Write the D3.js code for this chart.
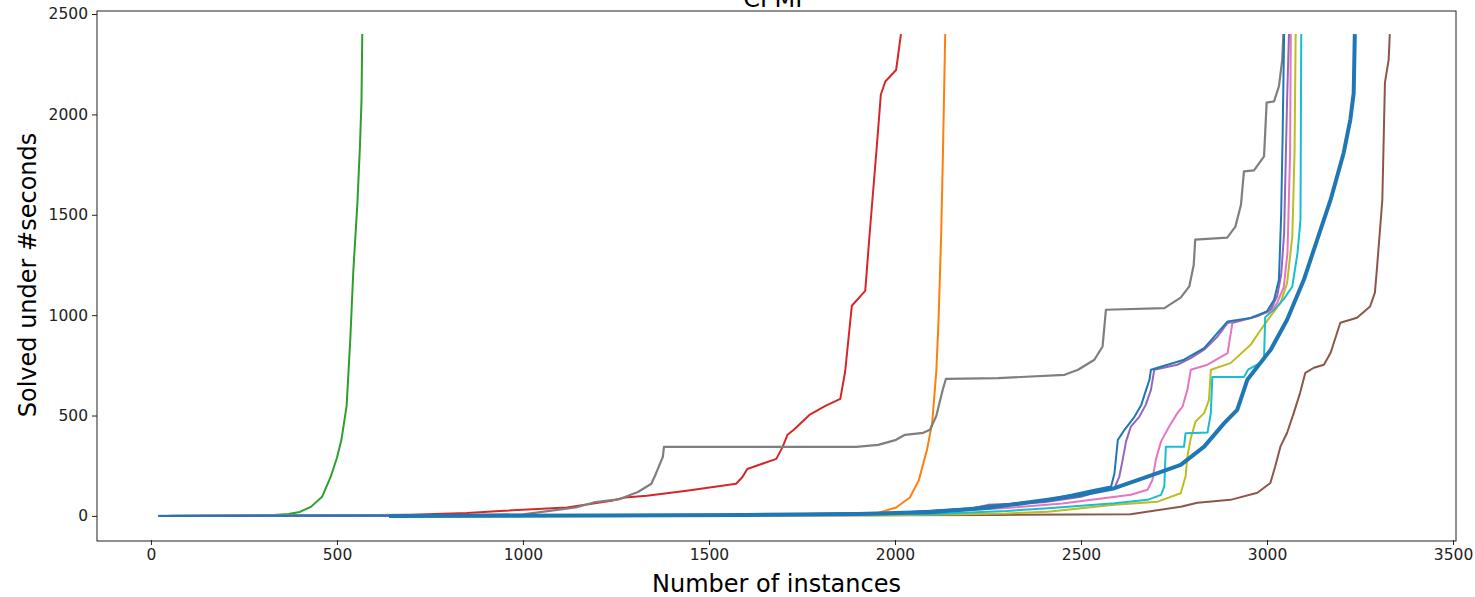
<!DOCTYPE html>
<html>
<head>
<meta charset="utf-8">
<script src="https://cdn.jsdelivr.net/npm/d3@7"></script>
<style>
  body { margin: 0; background: #fff; }
  text { font-family: "DejaVu Sans", sans-serif; }
</style>
</head>
<body>
<script>
// 数据：每条曲线的 [实例数, 秒数]
const title = "CPMP";
const xTicks = [0, 500, 1000, 1500, 2000, 2500, 3000, 3500];
const yTicks = [0, 500, 1000, 1500, 2000, 2500];

const green = [[20,0],[250,1],[330,4],[370,10],[400,20],[430,45],[460,95],[483,194],[500,290],[512,379],[526,548],[536,887],[544,1221],[555,1560],[562,1850],[566,2069],[568,2400]];
const red = [[20,0],[400,2],[700,6],[850,14],[939,25],[1118,42],[1238,75],[1274,92],[1333,100],[1440,125],[1478,135],[1573,160],[1590,194],[1603,234],[1681,284],[1698,344],[1711,404],[1728,429],[1770,503],[1813,548],[1853,583],[1866,718],[1884,1047],[1920,1121],[1932,1408],[1950,1815],[1962,2099],[1974,2164],[2003,2221],[2010,2317],[2016,2400]];
const orange = [[20,0],[1500,2],[1800,5],[1900,9],[1955,15],[2003,42],[2040,92],[2064,177],[2086,329],[2100,464],[2111,718],[2117,970],[2124,1391],[2129,1815],[2135,2400]];
const gray = [[20,0],[700,1],[1000,8],[1142,42],[1190,67],[1260,84],[1309,119],[1345,160],[1357,209],[1376,294],[1379,344],[1896,344],[1955,354],[2003,379],[2027,404],[2076,414],[2094,429],[2111,498],[2129,633],[2137,683],[2277,686],[2456,703],[2492,728],[2536,778],[2558,844],[2567,1027],[2724,1035],[2768,1087],[2791,1143],[2803,1250],[2807,1376],[2893,1386],[2915,1441],[2930,1550],[2938,1716],[2965,1721],[2992,1791],[2999,2059],[3019,2065],[3032,2140],[3041,2273],[3044,2400]];
const purple = [[20,0],[1500,3],[2000,15],[2200,35],[2250,55],[2400,68],[2500,95],[2545,121],[2590,138],[2603,196],[2612,279],[2621,370],[2634,445],[2657,495],[2674,553],[2688,628],[2697,728],[2759,753],[2795,786],[2831,828],[2867,894],[2894,961],[2920,969],[2974,994],[3009,1027],[3027,1093],[3038,1200],[3046,1409],[3050,1741],[3054,2074],[3059,2400]];
const blueThin = [[20,0],[1500,3],[2000,15],[2200,38],[2250,50],[2400,75],[2536,130],[2581,146],[2590,213],[2599,379],[2617,429],[2644,495],[2662,553],[2675,628],[2684,678],[2688,728],[2706,738],[2777,778],[2831,836],[2894,969],[2956,986],[3000,1019],[3019,1077],[3032,1176],[3038,1500],[3042,1900],[3046,2400]];
const pink = [[20,0],[1500,2],[2000,10],[2300,40],[2450,62],[2634,105],[2679,130],[2692,179],[2701,279],[2715,370],[2737,445],[2759,512],[2773,545],[2786,628],[2795,728],[2840,753],[2894,811],[2907,961],[2956,986],[3009,1019],[3027,1060],[3045,1140],[3055,1310],[3062,1808],[3064,2400]];
const olive = [[20,0],[2000,3],[2300,12],[2411,21],[2590,55],[2706,71],[2768,113],[2781,196],[2786,296],[2795,387],[2808,470],[2831,512],[2844,578],[2849,728],[2902,761],[2956,852],[2983,927],[3009,994],[3036,1060],[3054,1160],[3068,1392],[3074,1808],[3077,2400]];
const cyan = [[20,0],[1500,2],[2100,10],[2300,25],[2411,38],[2590,63],[2679,80],[2715,105],[2724,146],[2728,345],[2777,345],[2781,412],[2840,415],[2849,512],[2853,692],[2938,692],[2950,730],[2980,760],[2992,780],[2995,990],[3020,1030],[3045,1080],[3068,1143],[3082,1310],[3090,1476],[3092,2400]];
const brown = [[20,0],[1500,1],[2277,5],[2633,8],[2768,46],[2813,66],[2902,80],[2974,115],[3009,164],[3022,246],[3036,345],[3054,414],[3072,513],[3089,613],[3103,713],[3126,738],[3153,753],[3171,813],[3197,962],[3242,987],[3277,1043],[3290,1112],[3296,1243],[3310,1575],[3314,1909],[3317,2158],[3327,2273],[3330,2400]];
const blueThick = [[640,0],[1200,2],[1600,5],[1900,10],[2100,20],[2250,40],[2411,80],[2499,105],[2590,138],[2679,196],[2768,254],[2831,345],[2885,462],[2920,528],[2947,678],[3010,828],[3054,977],[3099,1176],[3135,1376],[3171,1575],[3206,1808],[3224,1974],[3233,2107],[3236,2400]];

const series = [
  { data: green, color: "#2ca02c", w: 2 },
  { data: red, color: "#d62728", w: 2 },
  { data: orange, color: "#ff7f0e", w: 2 },
  { data: brown, color: "#8c564b", w: 2 },
  { data: gray, color: "#7f7f7f", w: 2.2 },
  { data: olive, color: "#bcbd22", w: 2 },
  { data: cyan, color: "#17becf", w: 2 },
  { data: pink, color: "#e377c2", w: 2 },
  { data: purple, color: "#9467bd", w: 2 },
  { data: blueThin, color: "#1f77b4", w: 2 },
  { data: blueThick, color: "#1f77b4", w: 4 }
];

const W = 1475, H = 597;
const mLeft = 97, mRight = 1456, mTop = 10, mBottom = 540;

const svg = d3.select("body").append("svg")
  .attr("width", W)
  .attr("height", H);

const x = d3.scaleLinear().domain([-145, 3508]).range([mLeft, mRight]);
const y = d3.scaleLinear().domain([-120, 2520]).range([mBottom, mTop]);

svg.append("clipPath").attr("id", "plot")
  .append("rect")
  .attr("x", mLeft).attr("y", mTop)
  .attr("width", mRight - mLeft).attr("height", mBottom - mTop);

const line = d3.line().x(d => x(d[0])).y(d => y(d[1]));

svg.append("g").attr("clip-path", "url(#plot)")
  .selectAll("path")
  .data(series)
  .enter()
  .append("path")
  .attr("d", d => line(d.data))
  .attr("fill", "none")
  .attr("stroke", d => d.color)
  .attr("stroke-width", d => d.w)
  .attr("stroke-linejoin", "round");

// 坐标轴
const xAxis = svg.append("g")
  .attr("transform", `translate(0,${mBottom})`)
  .call(d3.axisBottom(x).tickValues(xTicks).tickSize(5).tickPadding(4).tickFormat(d3.format("d")));
const yAxis = svg.append("g")
  .attr("transform", `translate(${mLeft},0)`)
  .call(d3.axisLeft(y).tickValues(yTicks).tickSize(5).tickPadding(4).tickFormat(d3.format("d")));

[xAxis, yAxis].forEach(g => {
  g.select(".domain").remove();
  g.selectAll("text").style("font-size", "15.5px").attr("fill", "#222");
  g.selectAll("line").attr("stroke", "#222");
});

svg.append("rect")
  .attr("x", mLeft).attr("y", mTop + 1)
  .attr("width", mRight - mLeft).attr("height", mBottom - mTop)
  .attr("fill", "none")
  .attr("stroke", "#222")
  .attr("stroke-width", 1);

svg.append("text")
  .attr("x", (mLeft + mRight) / 2)
  .attr("y", 7)
  .attr("text-anchor", "middle")
  .style("font-size", "24px")
  .text(title);

svg.append("text")
  .attr("x", (mLeft + mRight) / 2)
  .attr("y", 592)
  .attr("text-anchor", "middle")
  .style("font-size", "24px")
  .text("Number of instances");

svg.append("text")
  .attr("transform", `translate(36,${(mTop + mBottom) / 2}) rotate(-90)`)
  .attr("text-anchor", "middle")
  .style("font-size", "24px")
  .text("Solved under #seconds");
</script>
</body>
</html>
